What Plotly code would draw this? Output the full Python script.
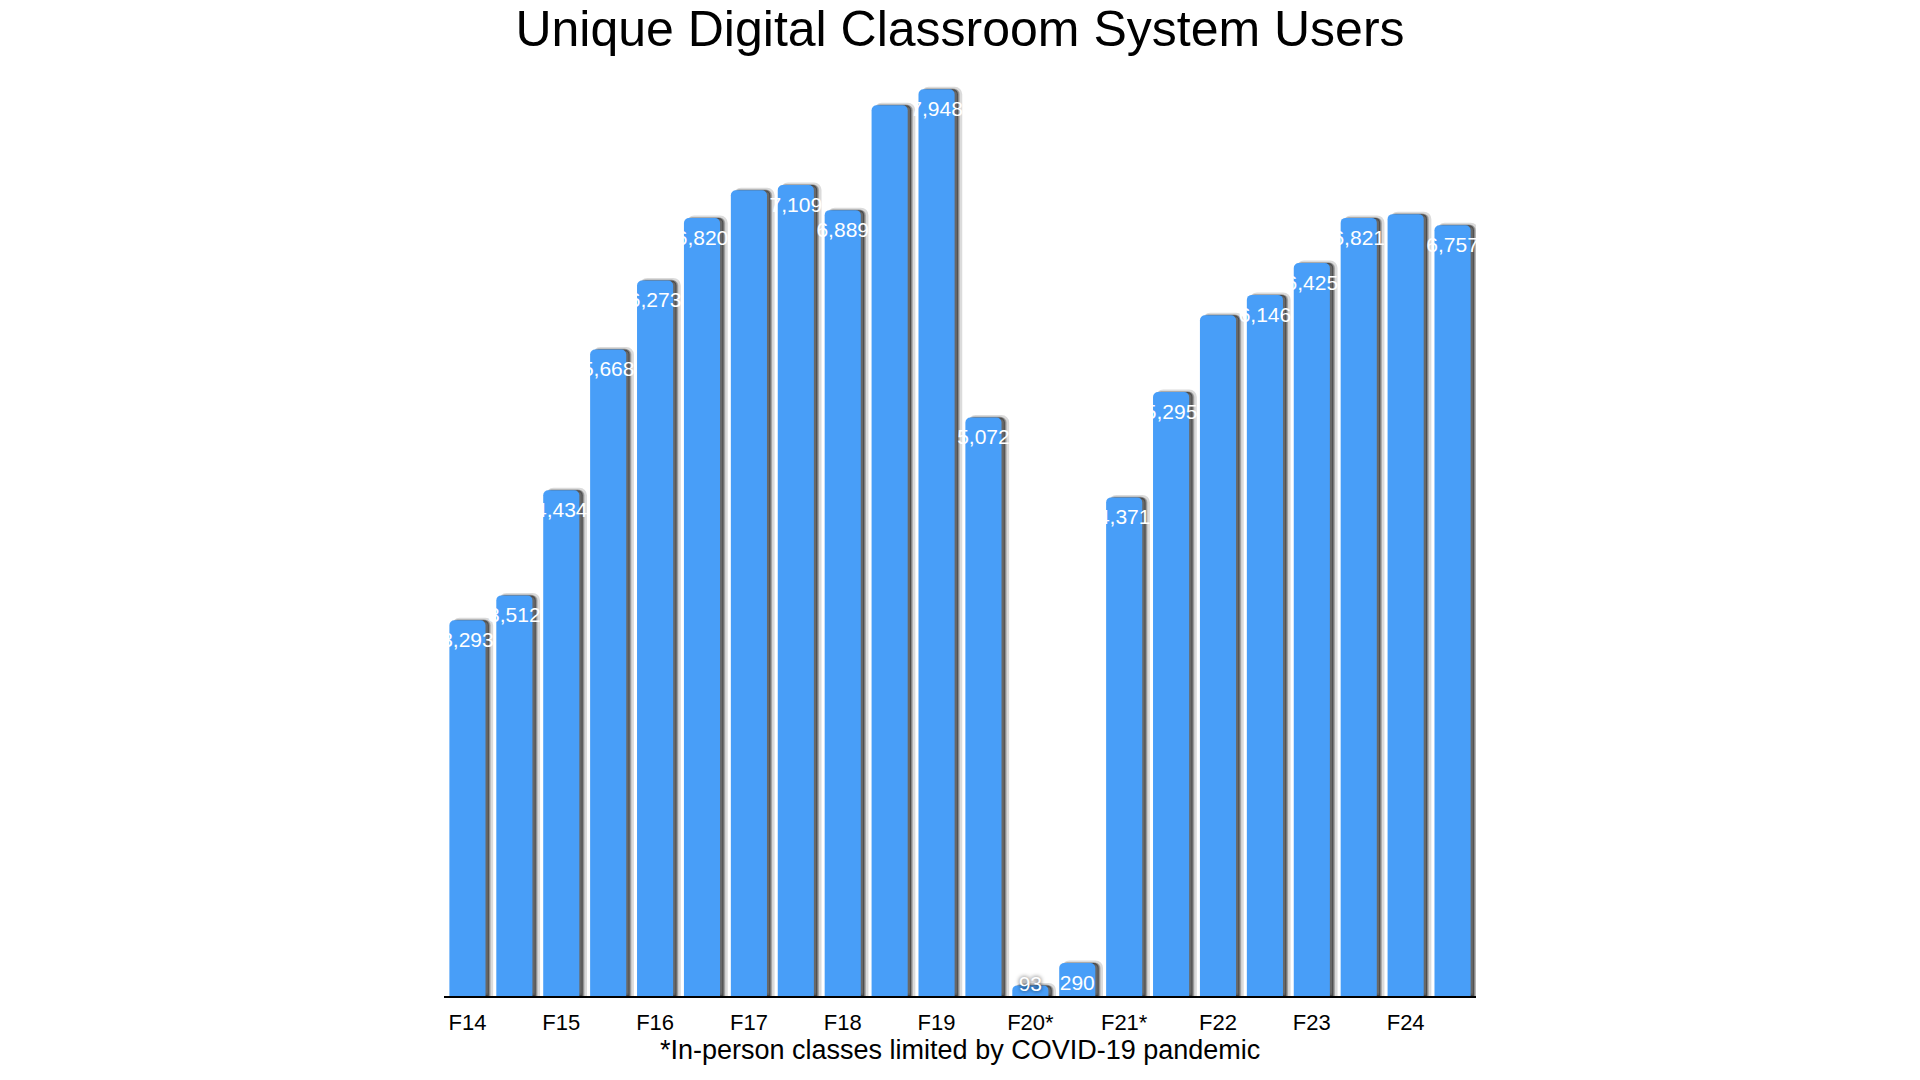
import plotly.graph_objects as go

# semesters (fall terms get a tick label)
terms = ["F14", "S15", "F15", "S16", "F16", "S17", "F17", "S18", "F18", "S19",
         "F19", "S20", "F20*", "S21", "F21*", "S22", "F22", "S23", "F23", "S24",
         "F24", "S25"]
users = [3293, 3512, 4434, 5668, 6273, 6820, 7064, 7109, 6889, 7809,
         7948, 5072, 93, 290, 4371, 5295, 5968, 6146, 6425, 6821,
         6854, 6757]
# bars that have a value label in the original
labelled = [True, True, True, True, True, True, False, True, True, False,
            True, True, True, True, True, True, False, True, True, True,
            False, True]
tick_terms = ["F14", "F15", "F16", "F17", "F18", "F19", "F20*", "F21*", "F22", "F23", "F24"]

labels = [f"{v:,}" if show else "" for v, show in zip(users, labelled)]
# a label does not fit under the top of a very short bar, it sits on the top instead
SHORT = 200
labels_in = [t if v >= SHORT else "" for t, v in zip(labels, users)]
labels_top = [t if v < SHORT else "" for t, v in zip(labels, users)]

BLUE = "#489ef8"
bar_w = 0.77

fig = go.Figure()

# fake drop shadow, two soft layers behind the bars
fig.add_trace(go.Bar(
    x=terms, y=users, width=bar_w, offset=-bar_w / 2 + 0.11,
    marker=dict(color="rgba(0,0,0,0.22)", cornerradius=5,
                line=dict(color="rgba(0,0,0,0.14)", width=5)),
    hoverinfo="skip", showlegend=False,
))
fig.add_trace(go.Bar(
    x=terms, y=users, width=bar_w, offset=-bar_w / 2 + 0.07,
    marker=dict(color="rgba(40,40,40,0.6)", cornerradius=5,
                line=dict(color="rgba(0,0,0,0.22)", width=2)),
    hoverinfo="skip", showlegend=False,
))

fig.add_trace(go.Bar(
    x=terms, y=users, width=bar_w, offset=-bar_w / 2,
    marker=dict(color=BLUE, cornerradius=5, line=dict(width=0)),
    showlegend=False,
))

# value labels hang under the top of each bar, full size (they overflow the bar);
# the invisible marker just pushes the text a little further down
fig.add_trace(go.Scatter(
    x=terms, y=users, mode="markers+text", text=labels_in,
    textposition="bottom center", cliponaxis=False,
    marker=dict(size=16, color="rgba(0,0,0,0)"),
    textfont=dict(color="white", size=21, family="Liberation Sans"),
    hoverinfo="skip", showlegend=False,
))
fig.add_trace(go.Scatter(
    x=terms, y=users, mode="text", text=labels_top,
    textposition="middle center", cliponaxis=False,
    textfont=dict(color="white", size=21, family="Liberation Sans",
                  shadow="0px 0px 4px rgba(0,0,0,0.8)"),
    hoverinfo="skip", showlegend=False,
))

# page body adds 8px margin, so the figure is 16px smaller than the window
fig.update_layout(
    width=1904, height=1064,
    barmode="overlay",
    paper_bgcolor="white", plot_bgcolor="white",
    font=dict(family="Liberation Sans", color="black"),
    margin=dict(l=436, r=436, t=72, b=76),
    title=dict(text="Unique Digital Classroom System Users",
               font=dict(size=50, color="black"),
               x=0.5, xanchor="center", y=0.981, yanchor="middle",
               xref="paper", yref="container"),
    xaxis=dict(
        type="category", range=[-0.5, len(terms) - 0.5],
        tickmode="array", tickvals=tick_terms, ticktext=tick_terms,
        tickfont=dict(size=22, color="black"),
        showline=True, linecolor="black", linewidth=1.5,
        ticks="outside", ticklen=6, tickcolor="rgba(0,0,0,0)",
        showgrid=False, zeroline=False,
    ),
    yaxis=dict(range=[0, 8030], visible=False, showgrid=False, zeroline=False),
    annotations=[dict(
        text="*In-person classes limited by COVID-19 pandemic",
        xref="paper", yref="paper", x=0.5, y=0, yshift=-54,
        xanchor="center", yanchor="middle", showarrow=False,
        font=dict(size=27, color="black"),
    )],
)

fig.write_html("out.html")
